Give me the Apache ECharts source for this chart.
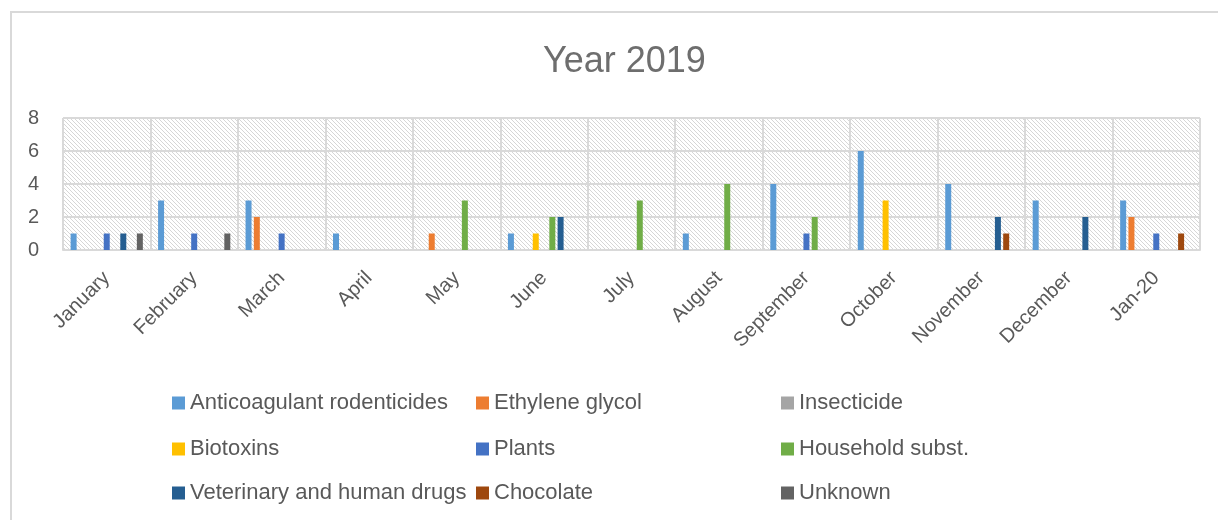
<!DOCTYPE html>
<html>
<head>
<meta charset="utf-8">
<title>Year 2019</title>
<script src="https://cdn.jsdelivr.net/npm/echarts@6/dist/echarts.min.js"></script>
<style>
  html, body { margin: 0; padding: 0; background: #ffffff; }
  #chart { width: 1218px; height: 520px; }
</style>
</head>
<body>
<div id="chart"></div>
<script>
// Monthly poisoning cases by cause
const categories = ['January', 'February', 'March', 'April', 'May', 'June', 'July',
  'August', 'September', 'October', 'November', 'December', 'Jan-20'];

const anticoagulantRodenticides = [1, 3, 3, 1, 0, 1, 0, 1, 4, 6, 4, 3, 3];
const ethyleneGlycol            = [0, 0, 2, 0, 1, 0, 0, 0, 0, 0, 0, 0, 2];
const insecticide               = [0, 0, 0, 0, 0, 0, 0, 0, 0, 0, 0, 0, 0];
const biotoxins                 = [0, 0, 0, 0, 0, 1, 0, 0, 0, 3, 0, 0, 0];
const plants                    = [1, 1, 1, 0, 0, 0, 0, 0, 1, 0, 0, 0, 1];
const householdSubst            = [0, 0, 0, 0, 3, 2, 3, 4, 2, 0, 0, 0, 0];
const vetHumanDrugs             = [1, 0, 0, 0, 0, 2, 0, 0, 0, 0, 2, 2, 0];
const chocolate                 = [0, 0, 0, 0, 0, 0, 0, 0, 0, 0, 1, 0, 1];
const unknown                   = [1, 1, 0, 0, 0, 0, 0, 0, 0, 0, 0, 0, 0];

const yTicks = [0, 2, 4, 6, 8];

const seriesDefs = [
  { name: 'Anticoagulant rodenticides', data: anticoagulantRodenticides, color: '#5B9BD5' },
  { name: 'Ethylene glycol',            data: ethyleneGlycol,            color: '#ED7D31' },
  { name: 'Insecticide',                data: insecticide,               color: '#A5A5A5' },
  { name: 'Biotoxins',                  data: biotoxins,                 color: '#FFC000' },
  { name: 'Plants',                     data: plants,                    color: '#4472C4' },
  { name: 'Household subst.',           data: householdSubst,            color: '#70AD47' },
  { name: 'Veterinary and human drugs', data: vetHumanDrugs,             color: '#255E91' },
  { name: 'Chocolate',                  data: chocolate,                 color: '#9E480E' },
  { name: 'Unknown',                    data: unknown,                   color: '#636363' }
];

// Legend grid: 3 columns x 3 rows
const legendCols = [172, 476, 781];
const legendRows = [392, 438, 482];

// Light downward-diagonal hatch for the plot background
function hatchPattern() {
  const c = document.createElement('canvas');
  c.width = 8; c.height = 8;
  const ctx = c.getContext('2d');
  ctx.fillStyle = '#ffffff';
  ctx.fillRect(0, 0, 8, 8);
  ctx.fillStyle = '#d6d6d6';
  for (let y = 0; y < 8; y++) {
    for (let x = 0; x < 8; x++) {
      if (((x - y) % 4 + 4) % 4 === 0) ctx.fillRect(x, y, 1, 1);
    }
  }
  return { image: c, repeat: 'repeat' };
}

const FONT = '"Liberation Sans", Arial, sans-serif';
const TEXT = '#595959';
const GRID_LINE = '#d9d9d9';

const legends = seriesDefs.map((s, i) => ({
  data: [s.name],
  left: legendCols[i % 3],
  top: legendRows[Math.floor(i / 3)],
  padding: 0,
  icon: 'rect',
  itemWidth: 13,
  itemHeight: 13,
  selectedMode: false,
  textStyle: { fontFamily: FONT, fontSize: 22, color: TEXT }
}));

const chart = echarts.init(document.getElementById('chart'), null, { renderer: 'canvas' });

chart.setOption({
  animation: false,
  backgroundColor: '#ffffff',
  graphic: [{
    type: 'rect',
    shape: { x: 11, y: 12, width: 1240, height: 540 },
    style: { fill: 'none', stroke: GRID_LINE, lineWidth: 2 },
    silent: true
  }],
  title: {
    text: 'Year 2019',
    left: 538,
    top: 39,
    textStyle: { fontFamily: FONT, fontSize: 36, fontWeight: 'normal', color: '#6e6e6e' }
  },
  legend: legends,
  grid: {
    left: 63, right: 18, top: 118, height: 132,
    show: true,
    backgroundColor: hatchPattern(),
    borderWidth: 0
  },
  xAxis: {
    type: 'category',
    data: categories,
    boundaryGap: true,
    axisTick: { show: false },
    axisLine: { show: true, lineStyle: { color: GRID_LINE, width: 2 } },
    splitLine: { show: true, interval: 0, lineStyle: { color: GRID_LINE, width: 2 } },
    axisLabel: {
      interval: 0,
      rotate: 45,
      margin: 25,
      fontFamily: FONT,
      fontSize: 20,
      color: TEXT
    }
  },
  yAxis: {
    type: 'value',
    min: yTicks[0],
    max: yTicks[yTicks.length - 1],
    interval: 2,
    axisLine: { show: false },
    axisTick: { show: false },
    splitLine: { show: true, lineStyle: { color: GRID_LINE, width: 2 } },
    axisLabel: { margin: 24, fontFamily: FONT, fontSize: 20, color: TEXT }
  },
  series: seriesDefs.map(s => ({
    name: s.name,
    type: 'bar',
    data: s.data,
    barWidth: 6,
    barGap: '38%',
    itemStyle: { color: s.color },
    emphasis: { disabled: true }
  }))
});
</script>
</body>
</html>
